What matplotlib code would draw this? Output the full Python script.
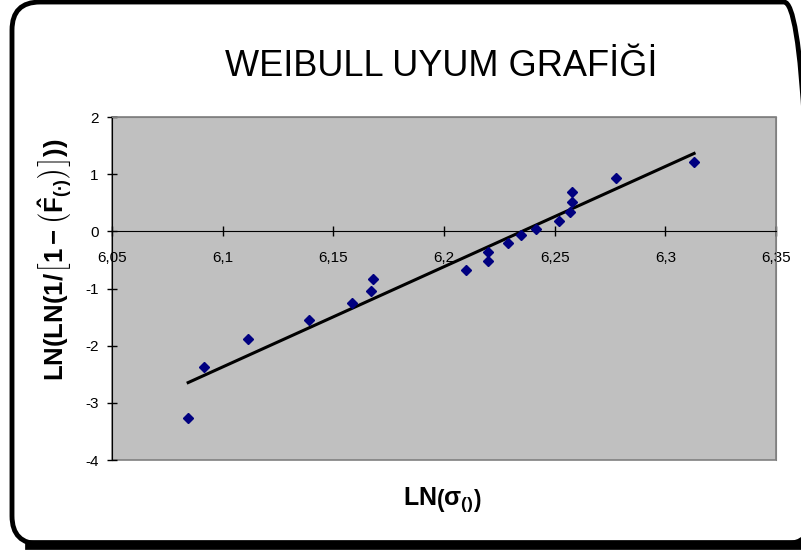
import numpy as np
import matplotlib
matplotlib.use("Agg")
import matplotlib.pyplot as plt
from matplotlib.patches import FancyBboxPatch, Rectangle

plt.rcParams['font.family'] = ['Liberation Sans', 'DejaVu Sans']
plt.rcParams['mathtext.fontset'] = 'custom'
plt.rcParams['mathtext.rm'] = 'Liberation Sans:bold'
plt.rcParams['mathtext.it'] = 'Liberation Sans:bold'
plt.rcParams['mathtext.bf'] = 'Liberation Sans:bold'

title = "WEIBULL UYUM GRAFİĞİ"
x_vals = [6.0844, 6.0914, 6.1115, 6.139, 6.1586, 6.167, 6.168, 6.210, 6.2197, 6.2197,
          6.2287, 6.235, 6.2414, 6.2518, 6.2568, 6.258, 6.258, 6.2776, 6.313]
y_vals = [-3.27, -2.38, -1.89, -1.55, -1.26, -1.05, -0.84, -0.68, -0.52, -0.36,
          -0.21, -0.07, 0.035, 0.18, 0.34, 0.51, 0.69, 0.93, 1.21]
x_ticks = [6.05, 6.1, 6.15, 6.2, 6.25, 6.3, 6.35]
x_tick_labels = ["6,05", "6,1", "6,15", "6,2", "6,25", "6,3", "6,35"]
y_ticks = [-4, -3, -2, -1, 0, 1, 2]
y_tick_labels = ["-4", "-3", "-2", "-1", "0", "1", "2"]

fig = plt.figure(figsize=(8.01, 5.52), dpi=100)
fig.patch.set_facecolor('white')

# rounded outer frame
frame = FancyBboxPatch((12 / 801, 8 / 552), 800 / 801, 542 / 552,
                       boxstyle="round,pad=0,rounding_size=0.035",
                       transform=fig.transFigure, fill=False, edgecolor='black',
                       linewidth=3.5, mutation_aspect=801 / 552)
fig.patches.append(frame)
fig.add_artist(plt.Line2D([30 / 801, 1], [7 / 552, 7 / 552], transform=fig.transFigure,
                          color='black', linewidth=7))

ax = fig.add_axes([112 / 801, 1 - 460 / 552, (776 - 112) / 801, (460 - 117) / 552])
ax.set_facecolor('#C0C0C0')
ax.set_xlim(6.05, 6.35)
ax.set_ylim(-4, 2)

x = np.array(x_vals)
y = np.array(y_vals)
coef = np.polyfit(x, y, 1)
xl = np.array([x.min(), x.max()])
ax.plot(xl, np.polyval(coef, xl), color='black', linewidth=2.2, zorder=3)
ax.plot(x, y, linestyle='none', marker='D', markersize=5.5, color='#000080', zorder=4)

ax.spines['bottom'].set_position(('data', 0))
ax.spines['bottom'].set_color('black')
ax.spines['left'].set_color('black')
ax.spines['top'].set_color('#808080')
ax.spines['right'].set_color('#808080')
ax.add_patch(Rectangle((0, 0), 1, 1, transform=ax.transAxes, fill=False,
                       edgecolor='#808080', linewidth=1.2, zorder=1, clip_on=False))

ax.set_xticks(x_ticks)
ax.set_xticklabels(x_tick_labels)
ax.set_yticks(y_ticks)
ax.set_yticklabels(y_tick_labels)
ax.tick_params(axis='x', direction='inout', length=6.5, width=1, pad=11, labelsize=11)
ax.tick_params(axis='y', direction='inout', length=6.5, width=1, pad=6.5, labelsize=11)

fig.text(441 / 801, 1 - 66 / 552, title, ha='center', va='center', fontsize=26)
fig.text(56 / 801, 1 - 260 / 552,
         r'LN(LN(1/$\left[1-\left(\hat{F}_{(\bullet)}\right)\right]$))',
         rotation=90, ha='center', va='center', fontsize=18.5, fontweight='bold')
fig.text(442 / 801, 1 - 500 / 552, r'LN$\left(\sigma_{()}\right)$',
         ha='center', va='center', fontsize=18, fontweight='bold')

fig.savefig('out.png', dpi=100)
